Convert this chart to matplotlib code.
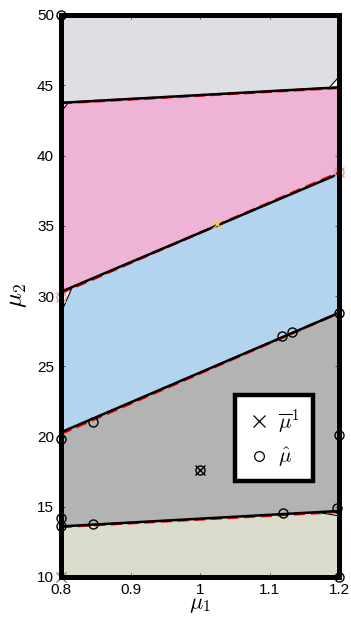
import matplotlib
matplotlib.use("Agg")
import matplotlib.pyplot as plt
import numpy as np

# ---- data ----
x_range = [0.8, 1.2]
y_range = [10, 50]
# boundary lines (black, approximated) : y at mu1=0.8 and mu1=1.2
bnd_black_left = [13.6, 20.3, 30.3, 43.75]
bnd_black_right = [14.7, 28.8, 38.7, 44.85]
# boundary lines (red dashed, exact)
bnd_red_left = [13.57, 20.2, 30.22, 43.73]
bnd_red_right = [14.64, 28.8, 38.78, 44.82]
region_colors = ["#DCDCCC", "#B3B3B3", "#B3D4EE", "#EFB3D6", "#DEDEE5"]

hat_mu_x = [0.8, 0.8, 0.8, 0.846, 1.1175, 1.132, 1.2, 1.2, 1.0,
            0.8, 0.8, 0.846, 1.119, 1.197, 1.2]
hat_mu_y = [50.0, 29.95, 19.8, 21.05, 27.15, 27.42, 28.8, 20.1, 17.6,
            14.18, 13.63, 13.75, 14.53, 14.89, 10.0]
hat_mu_colors = ["black", "#E8A0A0", "black", "black", "black", "black", "black",
                 "black", "black", "black", "black", "black", "black", "black", "black"]
hat_mu_extra_x = [1.2]
hat_mu_extra_y = [38.8]

mubar_x = [1.024, 0.8, 1.0, 0.8, 1.2]
mubar_y = [35.1, 10.0, 17.6, 29.95, 38.8]
mubar_colors = ["#E8D840", "#8C8C40", "black", "#E0A0A0", "#E0A0A0"]

xticks = [0.8, 0.9, 1.0, 1.1, 1.2]
xticklabels = ["0.8", "0.9", "1", "1.1", "1.2"]
yticks = [10, 15, 20, 25, 30, 35, 40, 45, 50]

# ---- figure ----
plt.rcParams["mathtext.fontset"] = "cm"
fig = plt.figure(figsize=(3.51, 6.18), dpi=100)
ax = fig.add_axes([61 / 351, 41 / 618, 278 / 351, 562 / 618])

xs = np.array(x_range)
lower = [np.array([y_range[0]] * 2)]
for l, r in zip(bnd_black_left, bnd_black_right):
    lower.append(np.array([l, r]))
lower.append(np.array([y_range[1]] * 2))
for i, c in enumerate(region_colors):
    ax.fill_between(xs, lower[i], lower[i + 1], color=c, lw=0, zorder=1)

# small white wedges near boundary ends
wedge_pts = [
    ([0.8, 0.8, 0.8155], [28.8, 30.3, 30.55]),
    ([0.8, 0.8, 0.811], [43.1, 43.75, 43.8]),
    ([1.186, 1.2, 1.2], [44.83, 45.6, 44.85]),
    ([1.17, 1.2, 1.2], [14.6, 14.35, 14.7]),
]
for wx, wy in wedge_pts:
    ax.fill(wx, wy, color="white", lw=0, zorder=2)
    if wx[0] == wx[1]:
        ax.plot([wx[0], wx[2]], [wy[0], wy[2]], color="black", lw=0.8, zorder=3)
    else:
        ax.plot(wx[:2], wy[:2], color="black", lw=0.8, zorder=3)

for l, r in zip(bnd_red_left, bnd_red_right):
    ax.plot(xs, [l, r], color="red", lw=2.0, ls=(0, (4, 2)), zorder=3)
for l, r in zip(bnd_black_left, bnd_black_right):
    ax.plot(xs, [l, r], color="black", lw=1.8, zorder=4)

for x, y, c in zip(hat_mu_x, hat_mu_y, hat_mu_colors):
    ax.plot(x, y, "o", mfc="none", mec=c, ms=6.5, mew=1.0, zorder=6, clip_on=False)
for x, y in zip(hat_mu_extra_x, hat_mu_extra_y):
    ax.plot(x, y, "o", mfc="none", mec="#E0A0A0", ms=6.5, mew=1.0, zorder=6, clip_on=False)
for x, y, c in zip(mubar_x, mubar_y, mubar_colors):
    ax.plot(x, y, "x", color=c, ms=7, mew=1.0, zorder=7, clip_on=False)

# legend proxies
h1, = ax.plot([], [], "x", color="black", ms=8, mew=0.9, label=r"$\overline{\mu}^1$")
h2, = ax.plot([], [], "o", mfc="none", mec="black", ms=7, mew=0.9, label=r"$\hat{\mu}$")
leg = ax.legend(handles=[h1, h2], loc="upper left",
                bbox_to_anchor=(0.625, 0.324), fontsize=15, frameon=True,
                fancybox=False, handlelength=1.1, handletextpad=0.4,
                borderpad=0.6, labelspacing=0.45, borderaxespad=0.0)
leg.get_frame().set_edgecolor("black")
leg.get_frame().set_linewidth(3.2)
leg.get_frame().set_facecolor("white")
leg.get_frame().set_alpha(1)
leg.set_zorder(10)

ax.set_xlim(x_range)
ax.set_ylim(y_range)
ax.set_xticks(xticks)
ax.set_xticklabels(xticklabels)
ax.set_yticks(yticks)
for s in ax.spines.values():
    s.set_linewidth(3.6)
    s.set_color("black")
    s.set_zorder(8)
ax.tick_params(direction="in", length=3, width=0.6, color="#303050",
               top=True, right=True, labelsize=11, pad=5)
for t in ax.get_xticklabels() + ax.get_yticklabels():
    t.set_fontfamily("Liberation Sans")
ax.tick_params(axis="x", pad=4)

ax.set_xlabel(r"$\mu_1$", fontsize=16, labelpad=-1)
ax.set_ylabel(r"$\mu_2$", fontsize=18, labelpad=6)

fig.savefig("out.png", dpi=100)
